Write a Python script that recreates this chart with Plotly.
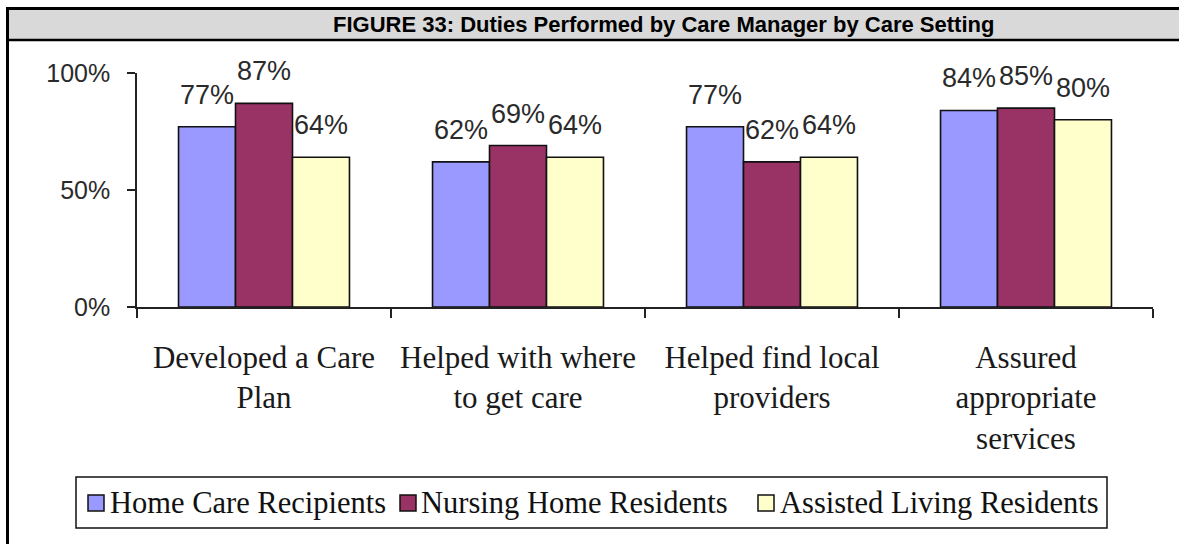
import plotly.graph_objects as go

# Chart data
categories = [
    "Developed a Care<br>Plan",
    "Helped with where<br>to get care",
    "Helped find local<br>providers",
    "Assured<br>appropriate<br>services",
]
series_names = ["Home Care Recipients", "Nursing Home Residents", "Assisted Living Residents"]
home_care = [77, 62, 77, 84]
nursing_home = [87, 69, 62, 85]
assisted_living = [64, 64, 64, 80]
y_tick_values = [0, 50, 100]
y_tick_labels = ["0%", "50%", "100%"]

series_values = [home_care, nursing_home, assisted_living]
series_colors = ["#9999FF", "#993366", "#FFFFCC"]

W, H = 1179, 544
PL, PR, PT, PB = 137, 1153, 73, 307  # plot area in pixels
BARGAP = 0.327
SANS = "Liberation Sans, Arial, sans-serif"
SERIF = "Liberation Serif, Times New Roman, serif"


def px_x(px):
    return (px - PL) / (PR - PL)


def px_y(py):
    return (PB - py) / (PB - PT)


x_pos = list(range(len(categories)))

fig = go.Figure()
for name, vals, col in zip(series_names, series_values, series_colors):
    fig.add_trace(go.Bar(
        x=x_pos, y=vals, name=name,
        marker=dict(color=col, line=dict(color="#111111", width=1.6)),
        hoverinfo="skip",
    ))

# value labels above each bar
bar_w = (1 - BARGAP) / len(series_values)
annotations = []
for k, vals in enumerate(series_values):
    for i, v in enumerate(vals):
        annotations.append(dict(
            x=i + (k - 1) * bar_w, y=v, xref="x", yref="y",
            text=f"{v}%", showarrow=False, yanchor="bottom", xanchor="center",
            yshift=15,
            font=dict(family=SANS, size=27, color="#2a2a2a"),
        ))

# figure heading inside the grey band
annotations.append(dict(
    x=px_x(663), y=px_y(24.5), xref="paper", yref="paper",
    text="<b>FIGURE 33: Duties Performed by Care Manager by Care Setting</b>",
    showarrow=False, xanchor="center", yanchor="middle",
    font=dict(family=SANS, size=22, color="#000000"),
))

shapes = [
    # grey heading band with rules above and below
    dict(type="rect", xref="paper", yref="paper",
         x0=px_x(7), x1=px_x(1230), y0=px_y(40), y1=px_y(8.5),
         fillcolor="#d9d9d9", line=dict(width=0), layer="below"),
    dict(type="line", xref="paper", yref="paper",
         x0=px_x(6), x1=px_x(1230), y0=px_y(8.5), y1=px_y(8.5),
         line=dict(color="#000000", width=3)),
    dict(type="line", xref="paper", yref="paper",
         x0=px_x(6), x1=px_x(1230), y0=px_y(40), y1=px_y(40),
         line=dict(color="#000000", width=2.5)),
    # left frame edge
    dict(type="line", xref="paper", yref="paper",
         x0=px_x(7.5), x1=px_x(7.5), y0=px_y(7), y1=px_y(560),
         line=dict(color="#000000", width=3)),
    # legend frame
    dict(type="rect", xref="paper", yref="paper",
         x0=px_x(76), x1=px_x(1107), y0=px_y(528), y1=px_y(477),
         fillcolor="white", line=dict(color="#111111", width=1.5)),
]

# legend entries: colour swatch followed by series name
legend_swatch_left = [88, 400, 758]
legend_text_left = [108, 419, 778]
legend_mid = 503
for name, col, sx, tx in zip(series_names, series_colors, legend_swatch_left, legend_text_left):
    shapes.append(dict(
        type="rect", xref="paper", yref="paper",
        x0=px_x(sx), x1=px_x(sx + 16), y0=px_y(legend_mid + 8), y1=px_y(legend_mid - 8),
        fillcolor=col, line=dict(color="#111111", width=1.5),
    ))
    annotations.append(dict(
        x=px_x(tx), y=px_y(legend_mid), xref="paper", yref="paper",
        text=name, showarrow=False, xanchor="left", yanchor="middle",
        font=dict(family=SERIF, size=30.5, color="#111111"),
    ))

fig.update_layout(
    width=W, height=H,
    margin=dict(l=PL, r=W - PR, t=PT, b=H - PB, pad=0, autoexpand=False),
    paper_bgcolor="white", plot_bgcolor="white",
    barmode="group", bargap=BARGAP, bargroupgap=0,
    showlegend=False,
    annotations=annotations,
    shapes=shapes,
)

fig.update_xaxes(
    range=[-0.5, len(categories) - 0.5], automargin=False,
    tickmode="array", tickvals=x_pos, ticktext=categories,
    ticks="", showline=True, linecolor="#222222", linewidth=1.5,
    showgrid=False, zeroline=False,
    tickfont=dict(family=SERIF, size=31, color="#1a1a1a"),
    ticklabelstandoff=22,
    minor=dict(tickmode="linear", tick0=-0.5, dtick=1, ticks="outside",
               ticklen=9, tickwidth=1.5, tickcolor="#222222", showgrid=False),
)
fig.update_yaxes(
    range=[0, 100], automargin=False,
    tickmode="array", tickvals=y_tick_values, ticktext=y_tick_labels,
    ticks="outside", ticklen=8, tickwidth=1.5, tickcolor="#222222",
    showline=True, linecolor="#222222", linewidth=1.5,
    showgrid=False, zeroline=False,
    tickfont=dict(family=SANS, size=25, color="#2a2a2a"),
    ticklabelstandoff=12,
)

fig.write_html("out.html")
